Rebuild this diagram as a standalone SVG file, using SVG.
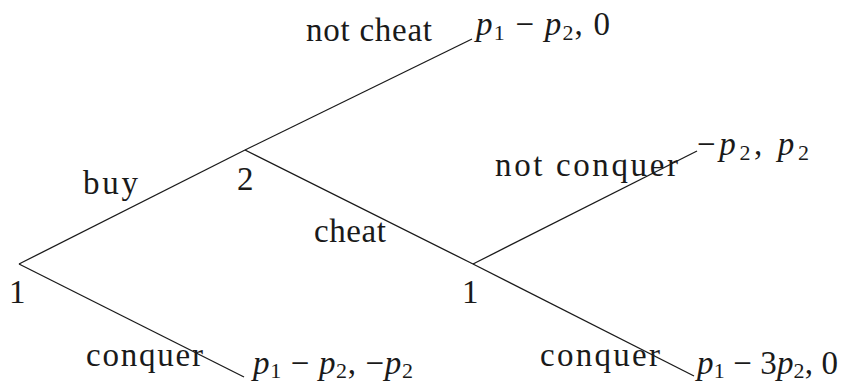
<svg xmlns="http://www.w3.org/2000/svg" width="848" height="383" viewBox="0 0 848 383">
<style>
  text { font-family: "Liberation Serif", "Times New Roman", serif; font-size: 33px; fill: #1a1a1a; }
  .m { font-style: italic; }
  .s { font-size: 22px; font-style: normal; }
  line { stroke: #1a1a1a; stroke-width: 1.3; }
</style>
<rect width="848" height="383" fill="#fff"/>
<g id="connectors">
  <line x1="19" y1="264" x2="245" y2="150"/>
  <line x1="19" y1="264" x2="244" y2="377"/>
  <line x1="245" y1="150" x2="472" y2="39"/>
  <line x1="245" y1="150" x2="473" y2="264"/>
  <line x1="473" y1="264" x2="697" y2="151"/>
  <line x1="473" y1="264" x2="694" y2="376"/>
  <text x="83" y="194" textLength="55">buy</text>
  <text x="86" y="366" textLength="117">conquer</text>
  <text x="306" y="41" textLength="126">not cheat</text>
  <text x="314" y="242" textLength="72">cheat</text>
  <text x="495" y="176" textLength="183">not conquer</text>
  <text x="540" y="366" textLength="120">conquer</text>
</g>
<g id="n-root"><text x="9" y="303">1</text></g>
<g id="n-2"><text x="237" y="190">2</text></g>
<g id="n-1b"><text x="462" y="303">1</text></g>
<g id="t-notcheat"><text x="476" y="35" textLength="134"><tspan class="m">p</tspan><tspan class="s" dy="5">1</tspan><tspan dy="-5"> − </tspan><tspan class="m">p</tspan><tspan class="s" dy="5">2</tspan><tspan dy="-5">,  0</tspan></text></g>
<g id="t-notconquer"><text x="697" y="155" textLength="112"><tspan>−</tspan><tspan class="m">p</tspan><tspan class="s" dy="5">2</tspan><tspan dy="-5">,  </tspan><tspan class="m">p</tspan><tspan class="s" dy="5">2</tspan></text></g>
<g id="t-conquer1"><text x="253" y="374" textLength="160"><tspan class="m">p</tspan><tspan class="s" dy="4">1</tspan><tspan dy="-4"> − </tspan><tspan class="m">p</tspan><tspan class="s" dy="4">2</tspan><tspan dy="-4">,  −</tspan><tspan class="m">p</tspan><tspan class="s" dy="4">2</tspan></text></g>
<g id="t-conquer2"><text x="697" y="374" textLength="141"><tspan class="m">p</tspan><tspan class="s" dy="4">1</tspan><tspan dy="-4"> − 3</tspan><tspan class="m">p</tspan><tspan class="s" dy="4">2</tspan><tspan dy="-4">,  0</tspan></text></g>
</svg>
